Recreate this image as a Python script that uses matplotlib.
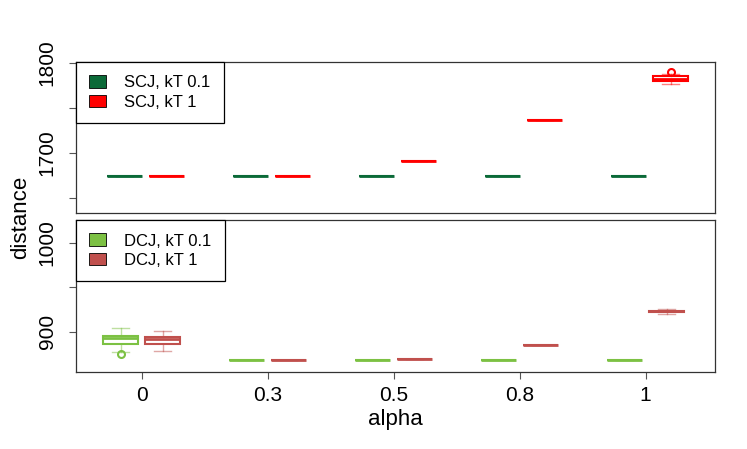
import matplotlib
matplotlib.use("Agg")
import matplotlib.pyplot as plt
from matplotlib.patches import Patch

plt.rcParams['font.family'] = ['Liberation Sans', 'DejaVu Sans']

# categories on the x axis
alphas = ["0", "0.3", "0.5", "0.8", "1"]

# SCJ panel (upper), box statistics per alpha
scj01_med = [1674, 1674, 1674, 1674, 1674]
scj01_q1 = [1674, 1674, 1674, 1674, 1674]
scj01_q3 = [1674, 1674, 1674, 1674, 1674]
scj01_lo = [1674, 1674, 1674, 1674, 1674]
scj01_hi = [1674, 1674, 1674, 1674, 1674]
scj01_out = [[], [], [], [], []]

scj1_med = [1674, 1674, 1691, 1736, 1782]
scj1_q1 = [1674, 1674, 1691, 1736, 1780]
scj1_q3 = [1674, 1674, 1691, 1736, 1785]
scj1_lo = [1674, 1674, 1691, 1736, 1777]
scj1_hi = [1674, 1674, 1691, 1736, 1787.5]
scj1_out = [[], [], [], [], [1789.5]]

# DCJ panel (lower)
dcj01_med = [893, 868.2, 868.2, 868, 868]
dcj01_q1 = [886.6, 868.2, 868.2, 868, 868]
dcj01_q3 = [895, 868.2, 868.2, 868, 868]
dcj01_lo = [877.6, 868.2, 868.2, 868, 868]
dcj01_hi = [904, 868.2, 868.2, 868, 868]
dcj01_out = [[875.4], [], [], [], []]

dcj1_med = [892, 868.2, 869.6, 885, 923]
dcj1_q1 = [886.6, 868.2, 869.6, 885, 922.5]
dcj1_q3 = [894, 868.2, 869.6, 885, 923.5]
dcj1_lo = [878, 868.2, 869.6, 885, 920]
dcj1_hi = [900.7, 868.2, 869.6, 885, 926]
dcj1_out = [[], [], [], [], []]


def make_stats(med, q1, q3, lo, hi, out):
    return [dict(med=m, q1=a, q3=b, whislo=l, whishi=h, fliers=f)
            for m, a, b, l, h, f in zip(med, q1, q3, lo, hi, out)]


def draw(ax, stats, pos, color, width=0.278):
    ax.bxp(stats, positions=pos, widths=width, capwidths=width / 2,
           patch_artist=True, manage_ticks=False,
           boxprops=dict(facecolor="white", edgecolor=color, linewidth=1.5),
           medianprops=dict(color=color, linewidth=2),
           whiskerprops=dict(color=color, linewidth=1, alpha=0.5, linestyle="-"),
           capprops=dict(color=color, linewidth=1, alpha=0.5),
           flierprops=dict(marker="o", markersize=5, markerfacecolor="none",
                           markeredgecolor=color, markeredgewidth=1.5))


fig = plt.figure(figsize=(7.47, 4.49), dpi=100)
ax1 = fig.add_axes([0.1017, 0.5256, 0.8553, 0.3364])
ax2 = fig.add_axes([0.1017, 0.1715, 0.8553, 0.3385])

x = list(range(1, len(alphas) + 1))
off = 0.167
shift = 0.032

c_scj01, c_scj1 = "#0b6a38", "#ff0000"
c_dcj01, c_dcj1 = "#7cc143", "#c0504d"

draw(ax1, make_stats(scj01_med, scj01_q1, scj01_q3, scj01_lo, scj01_hi, scj01_out),
     [v - off + shift for v in x], c_scj01)
draw(ax1, make_stats(scj1_med, scj1_q1, scj1_q3, scj1_lo, scj1_hi, scj1_out),
     [v + off + shift for v in x], c_scj1)
draw(ax2, make_stats(dcj01_med, dcj01_q1, dcj01_q3, dcj01_lo, dcj01_hi, dcj01_out),
     [v - off for v in x], c_dcj01)
draw(ax2, make_stats(dcj1_med, dcj1_q1, dcj1_q3, dcj1_lo, dcj1_hi, dcj1_out),
     [v + off for v in x], c_dcj1)

for ax in (ax1, ax2):
    ax.set_xlim(0.479, 5.55)
    for s in ax.spines.values():
        s.set_linewidth(0.9)
        s.set_color("#333333")
    ax.tick_params(axis="y", length=5, width=0.8, colors="#555555",
                   labelcolor="black", labelsize=15, pad=9)

ax1.set_ylim(1633, 1801)
ax1.set_yticks([1650, 1700, 1750, 1800])
ax1.set_yticklabels(["", "1700", "", "1800"], rotation=90, va="center")
ax1.set_xticks([])

ax2.set_ylim(855, 1025.5)
ax2.set_yticks([900, 950, 1000])
ax2.set_yticklabels(["900", "", "1000"], rotation=90, va="center")
ax2.set_xticks(x)
ax2.set_xticklabels(alphas)
ax2.tick_params(axis="x", length=5, width=0.8, colors="#555555",
                labelcolor="black", labelsize=15, pad=5)
ax2.set_xlabel("alpha", fontsize=16, labelpad=3)

fig.text(0.028, 0.515, "distance", rotation=90, ha="center", va="center", fontsize=16)

leg_kw = dict(loc="upper left", bbox_to_anchor=(0, 1), borderaxespad=0,
              fancybox=False, framealpha=1, edgecolor="black", fontsize=12,
              handlelength=1.0, handleheight=0.8, handletextpad=1.1,
              borderpad=0.8, labelspacing=0.25)
l1 = ax1.legend(handles=[Patch(facecolor=c_scj01, edgecolor="black", lw=0.6),
                         Patch(facecolor=c_scj1, edgecolor="black", lw=0.6)],
                labels=["SCJ, kT 0.1", "SCJ, kT 1"], **leg_kw)
l2 = ax2.legend(handles=[Patch(facecolor=c_dcj01, edgecolor="black", lw=0.6),
                         Patch(facecolor=c_dcj1, edgecolor="black", lw=0.6)],
                labels=["DCJ, kT 0.1", "DCJ, kT 1"], **leg_kw)
for l in (l1, l2):
    l.get_frame().set_linewidth(0.9)

fig.savefig("out.png", dpi=100)
